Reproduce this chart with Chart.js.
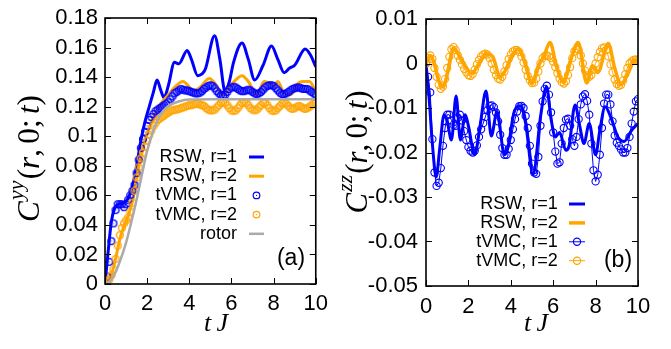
<!DOCTYPE html>
<html><head><meta charset="utf-8">
<script src="https://cdn.jsdelivr.net/npm/chart.js@4.4.1/dist/chart.umd.min.js"></script>
<style>
html,body{margin:0;padding:0;background:#fff;}
#wrap{position:relative;width:671px;height:349px;overflow:hidden;background:#fff;}
canvas{position:absolute;top:0;}
#ca{left:0;} #cb{left:335px;}
</style></head><body>
<div id="wrap"><canvas id="ca" width="335" height="349"></canvas><canvas id="cb" width="336" height="349"></canvas></div>
<script>
// ---------- DATA ----------
const tGrid = [0,0.1,0.2,0.3,0.4,0.5,0.6,0.7,0.8,0.9,1,1.1,1.2,1.3,1.4,1.5,1.6,1.7,1.8,1.9,2,2.1,2.2,2.3,2.4,2.5,2.6,2.7,2.8,2.9,3,3.1,3.2,3.3,3.4,3.5,3.6,3.7,3.8,3.9,4,4.1,4.2,4.3,4.4,4.5,4.6,4.7,4.8,4.9,5,5.1,5.2,5.3,5.4,5.5,5.6,5.7,5.8,5.9,6,6.1,6.2,6.3,6.4,6.5,6.6,6.7,6.8,6.9,7,7.1,7.2,7.3,7.4,7.5,7.6,7.7,7.8,7.9,8,8.1,8.2,8.3,8.4,8.5,8.6,8.7,8.8,8.9,9,9.1,9.2,9.3,9.4,9.5,9.6,9.7,9.8,9.9,10];

// panel (a): C^yy
const rswR1A_t = [0,0.15,0.3,0.45,0.65,0.9,1.1,1.3,1.5,1.7,1.9,2.1,2.3,2.47,2.65,2.8,3.0,3.3,3.5,3.9,4.1,4.4,4.75,5.2,5.45,5.7,5.9,6.1,6.5,6.8,7.1,7.5,7.9,8.2,8.5,8.75,9.0,9.5,9.75,10];
const rswR1A_y = [0,0.022,0.042,0.051,0.054,0.055,0.058,0.066,0.080,0.097,0.110,0.120,0.130,0.138,0.131,0.126,0.134,0.150,0.149,0.158,0.152,0.141,0.145,0.168,0.152,0.130,0.137,0.150,0.163,0.152,0.138,0.148,0.161,0.152,0.143,0.146,0.148,0.159,0.155,0.147];
const rswR2A_t = [0,0.3,0.5,0.7,0.9,1.1,1.3,1.5,1.7,2.0,2.3,2.6,3.0,3.3,3.7,4.2,4.5,4.95,5.2,5.6,6.0,6.5,6.8,7.2,7.55,7.8,8.0,8.2,8.5,8.8,9.1,9.4,9.7,10];
const rswR2A_y = [0,0.006,0.017,0.030,0.039,0.046,0.056,0.072,0.086,0.102,0.113,0.121,0.128,0.133,0.137,0.131,0.133,0.139,0.136,0.128,0.135,0.141,0.137,0.128,0.137,0.136,0.134,0.137,0.129,0.128,0.135,0.137,0.137,0.130];
const tvmcR1A_y = [0.000,0.005,0.015,0.029,0.041,0.050,0.054,0.054,0.054,0.052,
 0.054,0.057,0.060,0.063,0.067,0.075,0.084,0.092,0.098,0.103,
 0.107,0.111,0.113,0.115,0.117,0.118,0.119,0.120,0.121,0.122,
 0.123,0.125,0.127,0.129,0.130,0.131,0.132,0.1315,0.131,0.131,
 0.1305,0.130,0.1295,0.129,0.129,0.1295,0.1305,0.132,0.133,0.134,
 0.1345,0.134,0.1325,0.1305,0.129,0.128,0.1275,0.128,0.130,0.132,
 0.133,0.1335,0.133,0.132,0.131,0.1305,0.1305,0.131,0.1315,0.131,
 0.130,0.129,0.1285,0.129,0.130,0.1315,0.133,0.134,0.1345,0.1345,
 0.134,0.1325,0.131,0.1295,0.1285,0.1285,0.129,0.130,0.131,0.132,
 0.1325,0.133,0.133,0.1325,0.132,0.132,0.132,0.131,0.130,0.129,
 0.128];
const tvmcR2A_y = [0.000,0.001,0.003,0.006,0.010,0.017,0.026,0.033,0.038,0.041,
 0.043,0.045,0.049,0.055,0.063,0.072,0.079,0.085,0.089,0.093,
 0.097,0.101,0.104,0.107,0.109,0.111,0.112,0.113,0.114,0.115,
 0.116,0.117,0.1175,0.118,0.118,0.1185,0.119,0.1195,0.120,0.1205,
 0.121,0.121,0.1215,0.122,0.122,0.1215,0.121,0.1205,0.119,0.118,
 0.1175,0.1175,0.118,0.1195,0.121,0.1225,0.123,0.1225,0.121,0.119,
 0.1175,0.117,0.1175,0.119,0.121,0.1225,0.123,0.1225,0.121,0.119,
 0.118,0.1175,0.118,0.1195,0.121,0.1225,0.1225,0.121,0.119,0.1175,
 0.117,0.1175,0.119,0.1205,0.122,0.1225,0.122,0.1205,0.119,0.1185,
 0.119,0.120,0.1205,0.120,0.119,0.1185,0.119,0.120,0.121,0.122,
 0.1225];
const rotor_t = [0,0.25,0.5,0.75,1.0,1.25,1.5,1.75,2.0,2.25,2.5,2.75,3.0,3.5,4.0,5.0,10];
const rotor_y = [0,0.002,0.008,0.017,0.028,0.042,0.057,0.074,0.090,0.102,0.111,0.117,0.1205,0.1235,0.1248,0.125,0.125];

// panel (b): C^zz
const rswR1B_t = [0,0.15,0.3,0.48,0.65,0.85,1.0,1.2,1.42,1.62,1.85,2.0,2.3,2.55,2.83,3.08,3.35,3.7,3.9,4.15,4.45,4.7,5.05,5.4,5.68,5.9,6.1,6.3,6.6,6.75,7.03,7.25,7.45,7.7,8.0,8.2,8.45,8.75,9.05,9.35,9.7,10];
const rswR1B_y = [0,-0.008,-0.018,-0.0255,-0.019,-0.0115,-0.013,-0.0172,-0.0073,-0.0172,-0.0115,-0.014,-0.0205,-0.014,-0.0062,-0.0163,-0.0108,-0.0205,-0.018,-0.011,-0.0095,-0.0135,-0.025,-0.012,-0.0053,-0.0125,-0.0165,-0.0155,-0.0195,-0.0185,-0.0093,-0.014,-0.018,-0.0135,-0.0205,-0.015,-0.0097,-0.0125,-0.0165,-0.0175,-0.015,-0.0135];
const rswR2B_t = [0,0.2,0.38,0.58,0.8,1.05,1.3,1.6,1.85,2.15,2.45,2.85,3.15,3.5,3.75,4.0,4.35,4.65,5.0,5.3,5.55,5.85,6.15,6.48,6.8,7.18,7.58,7.85,8.1,8.6,8.9,9.2,9.55,9.85,10];
const rswR2B_y = [0,0.0018,0.0002,-0.0035,-0.0053,-0.0015,0.0035,0.0015,-0.0005,-0.0022,-0.0005,0.0022,0.0015,-0.003,-0.0015,0.001,0.0033,0.0005,-0.0045,-0.0005,0.0015,0.0047,-0.0005,-0.0042,0.0005,0.0047,-0.0044,-0.0005,-0.002,0.0045,-0.001,-0.0048,-0.002,0.0008,0.0005];
const tvmcR1B_y = [0,-0.003,-0.0065,-0.017,-0.0245,-0.0275,-0.0268,-0.0235,-0.0185,-0.0145,
 -0.0115,-0.0115,-0.0128,-0.0138,-0.0140,-0.0122,-0.0115,-0.0128,-0.0152,-0.0172,
 -0.0188,-0.0196,-0.0200,-0.0196,-0.0184,-0.0165,-0.0148,-0.0134,-0.0120,-0.0105,
 -0.0095,-0.0094,-0.0098,-0.0110,-0.0130,-0.0160,-0.0190,-0.0205,-0.0205,-0.0192,
 -0.0172,-0.0148,-0.0125,-0.0108,-0.0096,-0.0095,-0.0100,-0.0118,-0.0145,-0.0185,
 -0.0225,-0.0245,-0.0248,-0.0210,-0.0140,-0.0085,-0.0057,-0.0050,-0.0070,-0.0110,
 -0.0155,-0.0198,-0.0225,-0.0222,-0.0180,-0.0145,-0.0126,-0.0124,-0.0140,-0.0170,
 -0.0185,-0.0165,-0.0125,-0.0092,-0.0074,-0.0069,-0.0084,-0.0115,-0.0180,-0.0240,
 -0.0265,-0.0250,-0.0205,-0.0145,-0.0090,-0.0070,-0.0070,-0.0092,-0.0130,-0.0162,
 -0.0178,-0.0185,-0.0193,-0.0200,-0.0200,-0.0190,-0.0165,-0.0135,-0.0108,-0.0085,
 -0.0080];
const tvmcR2B_y = [0,0.0012,0.0018,0.0010,-0.0010,-0.0030,-0.0048,-0.0057,-0.0052,-0.0035,
 -0.0010,0.0015,0.0032,0.0037,0.0030,0.0018,0.0008,-0.0002,-0.0012,-0.0020,
 -0.0026,-0.0028,-0.0024,-0.0014,-0.0002,0.0008,0.0016,0.0020,0.0022,0.0020,
 0.0012,0.0000,-0.0014,-0.0026,-0.0034,-0.0036,-0.0030,-0.0018,-0.0004,0.0010,
 0.0020,0.0027,0.0030,0.0030,0.0026,0.0016,0.0002,-0.0014,-0.0028,-0.0038,
 -0.0044,-0.0043,-0.0034,-0.0018,0.0000,0.0012,0.0017,0.0018,0.0016,0.0012,
 0.0004,-0.0008,-0.0022,-0.0034,-0.0042,-0.0045,-0.0040,-0.0026,-0.0008,0.0012,
 0.0027,0.0033,0.0030,0.0018,0.0000,-0.0016,-0.0027,-0.0030,-0.0026,-0.0014,
 0.0000,0.0014,0.0026,0.0034,0.0036,0.0030,0.0016,-0.0002,-0.0020,-0.0036,
 -0.0046,-0.0050,-0.0048,-0.0038,-0.0024,-0.0010,0.0000,0.0005,0.0008,0.0009,
 0.0008];

const yTicksA = [0,0.02,0.04,0.06,0.08,0.1,0.12,0.14,0.16,0.18];
const yTicksB = [0.01,0,-0.01,-0.02,-0.03,-0.04,-0.05];
const xTicks = [0,2,4,6,8,10];

// ---------- STYLE ----------
const BLUE = '#0000ff', ORANGE = '#ffa500', GRAY = '#aaaaaa';
const SERIF = '"Liberation Serif", serif';
const SANS = '"Liberation Sans", Arial, sans-serif';
Chart.defaults.font.family = SANS;
Chart.defaults.color = '#000';

const pairs = (xs, ys) => xs.map((x, i) => ({x: x, y: ys[i]}));

function dotCircle(color) {
  const c = document.createElement('canvas');
  c.width = 10; c.height = 10;
  const g = c.getContext('2d');
  g.strokeStyle = color; g.lineWidth = 1.35;
  g.beginPath(); g.arc(5, 5, 3.4, 0, Math.PI * 2); g.stroke();
  g.fillStyle = color; g.fillRect(4.5, 4.5, 1, 1);
  return c;
}
const dotBlue = dotCircle(BLUE), dotOrange = dotCircle(ORANGE);

function fmt(v) { return String(Number(v.toFixed(4))); }

// parts: {t, s (size factor), it (italic), dy (factor), sp (factor)}
function drawMath(ctx, parts, x0, y0, base, target) {
  const font = (p, b) => (p.it ? 'italic ' : '') + (b * p.s).toFixed(2) + 'px ' + SERIF;
  const width = b => { let w = 0; parts.forEach(p => { ctx.font = font(p, b); w += ctx.measureText(p.t).width + (p.sp || 0) * b; }); return w; };
  let b = base;
  if (target) { b = base * target / width(base); }
  const w = width(b);
  let x = x0 - w / 2;
  parts.forEach(p => { ctx.font = font(p, b); ctx.fillText(p.t, x, y0 + (p.dy || 0) * b); x += ctx.measureText(p.t).width + (p.sp || 0) * b; });
}

const decor = {
  id: 'decor',
  afterDraw(chart, args, o) {
    const {ctx, chartArea: a, scales: {x, y}} = chart;
    ctx.save();
    // inward ticks on all sides
    ctx.strokeStyle = '#000'; ctx.lineWidth = 1;
    const L = 6;
    ctx.beginPath();
    o.xt.forEach(v => { const px = Math.round(x.getPixelForValue(v)) + 0.5;
      ctx.moveTo(px, a.bottom); ctx.lineTo(px, a.bottom - L); ctx.moveTo(px, a.top); ctx.lineTo(px, a.top + L); });
    o.yt.forEach(v => { const py = Math.round(y.getPixelForValue(v)) + 0.5;
      ctx.moveTo(a.left, py); ctx.lineTo(a.left + L, py); ctx.moveTo(a.right, py); ctx.lineTo(a.right - L, py); });
    ctx.stroke();
    ctx.lineWidth = 1.6;
    ctx.strokeRect(a.left, a.top, a.right - a.left, a.bottom - a.top);
    // legend
    ctx.font = '18px ' + SANS;
    ctx.textAlign = 'right'; ctx.textBaseline = 'middle';
    o.legend.forEach((e, i) => {
      const yy = o.ly + i * o.dy;
      ctx.fillStyle = '#000';
      ctx.fillText(e.label, o.tx, yy);
      if (e.line) {
        ctx.strokeStyle = e.color; ctx.lineWidth = e.lw;
        ctx.beginPath(); ctx.moveTo(o.sx0, yy); ctx.lineTo(o.sx1, yy); ctx.stroke();
      }
      if (e.circle) {
        ctx.strokeStyle = e.color; ctx.lineWidth = 1.2;
        ctx.beginPath(); ctx.arc((o.sx0 + o.sx1) / 2, yy, e.r, 0, Math.PI * 2); ctx.stroke();
        if (e.dot) { ctx.fillStyle = e.color; ctx.fillRect((o.sx0 + o.sx1) / 2 - 0.5, yy - 0.5, 1, 1); }
      }
    });
    // panel tag
    ctx.fillStyle = '#000';
    ctx.font = '23px ' + SANS;
    ctx.textAlign = 'center';
    ctx.fillText(o.tag, o.tagx, o.tagy);
    // x title
    ctx.textAlign = 'left'; ctx.textBaseline = 'alphabetic';
    drawMath(ctx, [{t: 't', s: 1, it: true, sp: 0.2}, {t: 'J', s: 1, it: true}], o.xtx, o.xty, 26);
    // y title
    ctx.translate(o.ytx, o.yty);
    ctx.rotate(-Math.PI / 2);
    drawMath(ctx, [
      {t: 'C', s: 1, it: true, sp: 0.04},
      {t: o.sup, s: 0.7, it: true, dy: -0.5, sp: 0.04},
      {t: '(', s: 1},
      {t: 'r', s: 1, it: true},
      {t: ',', s: 1, sp: 0.17},
      {t: '0', s: 1},
      {t: ';', s: 1, sp: 0.17},
      {t: 't', s: 1, it: true},
      {t: ')', s: 1}
    ], 0, 0, 30, o.ylen);
    ctx.restore();
  }
};

function makeChart(canvas, cfg) {
  return new Chart(canvas, {
    type: 'line',
    data: {datasets: cfg.datasets},
    options: {
      responsive: false, animation: false, events: [],
      layout: {padding: {top: 13, right: cfg.padR, left: 0, bottom: 0}},
      plugins: {legend: {display: false}, tooltip: {enabled: false}, decor: cfg.decor},
      scales: {
        x: {type: 'linear', min: 0, max: 10,
          grid: {display: false, drawTicks: false}, border: {display: false},
          ticks: {stepSize: 2, padding: cfg.xpad, font: {size: 22}, color: '#000', callback: v => fmt(v), maxRotation: 0},
          afterFit: s => { s.height = cfg.xh; }},
        y: {type: 'linear', min: cfg.ymin, max: cfg.ymax,
          grid: {display: false, drawTicks: false}, border: {display: false},
          ticks: {stepSize: cfg.ystep, padding: cfg.ypad, font: {size: 22, lineHeight: 1}, color: '#000', callback: v => fmt(v)},
          afterFit: s => { s.width = cfg.yw; }}
      }
    },
    plugins: [decor]
  });
}

// panel (a)
makeChart(document.getElementById('ca'), {
  padR: 17, xh: 65, yw: 105, xpad: 7, ypad: 7, ymin: 0, ymax: 0.18, ystep: 0.02,
  datasets: [
    {label: 'RSW, r=1', data: pairs(rswR1A_t, rswR1A_y), borderColor: BLUE, borderWidth: 3, pointRadius: 0, cubicInterpolationMode: 'monotone', fill: false, order: 5},
    {label: 'RSW, r=2', data: pairs(rswR2A_t, rswR2A_y), borderColor: ORANGE, borderWidth: 3, pointRadius: 0, cubicInterpolationMode: 'monotone', fill: false, order: 4},
    {label: 'tVMC, r=1', data: pairs(tGrid, tvmcR1A_y), showLine: false, pointStyle: dotBlue, pointRadius: 4, borderColor: BLUE, order: 3},
    {label: 'tVMC, r=2', data: pairs(tGrid, tvmcR2A_y), showLine: false, pointStyle: dotOrange, pointRadius: 4, borderColor: ORANGE, order: 2},
    {label: 'rotor', data: pairs(rotor_t, rotor_y), borderColor: GRAY, borderWidth: 2.5, pointRadius: 0, cubicInterpolationMode: 'monotone', fill: false, order: 1}
  ],
  decor: {
    xt: xTicks, yt: yTicksA,
    legend: [
      {label: 'RSW, r=1', line: true, color: BLUE, lw: 3},
      {label: 'RSW, r=2', line: true, color: ORANGE, lw: 3},
      {label: 'tVMC, r=1', circle: true, dot: true, color: BLUE, r: 3.3},
      {label: 'tVMC, r=2', circle: true, dot: true, color: ORANGE, r: 3.3},
      {label: 'rotor', line: true, color: GRAY, lw: 2.5}
    ],
    ly: 157, dy: 19.2, tx: 237, sx0: 249, sx1: 264,
    tag: '(a)', tagx: 291, tagy: 259,
    xtx: 216, xty: 331, ytx: 39, yty: 158.5, sup: 'yy', ylen: 127
  }
});

// panel (b)
makeChart(document.getElementById('cb'), {
  padR: 33, xh: 63, yw: 91, xpad: 8, ypad: 8, ymin: -0.05, ymax: 0.01, ystep: 0.01,
  datasets: [
    {label: 'RSW, r=1', data: pairs(rswR1B_t, rswR1B_y), borderColor: BLUE, borderWidth: 3, pointRadius: 0, cubicInterpolationMode: 'monotone', fill: false, order: 4},
    {label: 'RSW, r=2', data: pairs(rswR2B_t, rswR2B_y), borderColor: ORANGE, borderWidth: 3.5, pointRadius: 0, cubicInterpolationMode: 'monotone', fill: false, order: 3},
    {label: 'tVMC, r=1', data: pairs(tGrid, tvmcR1B_y), borderColor: BLUE, borderWidth: 1, pointStyle: 'circle', pointRadius: 3.6, pointBorderWidth: 1.1, pointBorderColor: BLUE, pointBackgroundColor: 'rgba(0,0,0,0)', tension: 0, fill: false, order: 2},
    {label: 'tVMC, r=2', data: pairs(tGrid, tvmcR2B_y), borderColor: ORANGE, borderWidth: 1, pointStyle: 'circle', pointRadius: 3.6, pointBorderWidth: 1.1, pointBorderColor: ORANGE, pointBackgroundColor: 'rgba(0,0,0,0)', tension: 0, fill: false, order: 1}
  ],
  decor: {
    xt: xTicks, yt: yTicksB,
    legend: [
      {label: 'RSW, r=1', line: true, color: BLUE, lw: 3},
      {label: 'RSW, r=2', line: true, color: ORANGE, lw: 3.5},
      {label: 'tVMC, r=1', line: true, circle: true, color: BLUE, lw: 1, r: 3.6},
      {label: 'tVMC, r=2', line: true, circle: true, color: ORANGE, lw: 1, r: 3.6}
    ],
    ly: 204, dy: 18.9, tx: 222.7, sx0: 234, sx1: 250,
    tag: '(b)', tagx: 283, tagy: 261,
    xtx: 201, xty: 331, ytx: 32, yty: 152, sup: 'zz', ylen: 123
  }
});
</script>
</body></html>
